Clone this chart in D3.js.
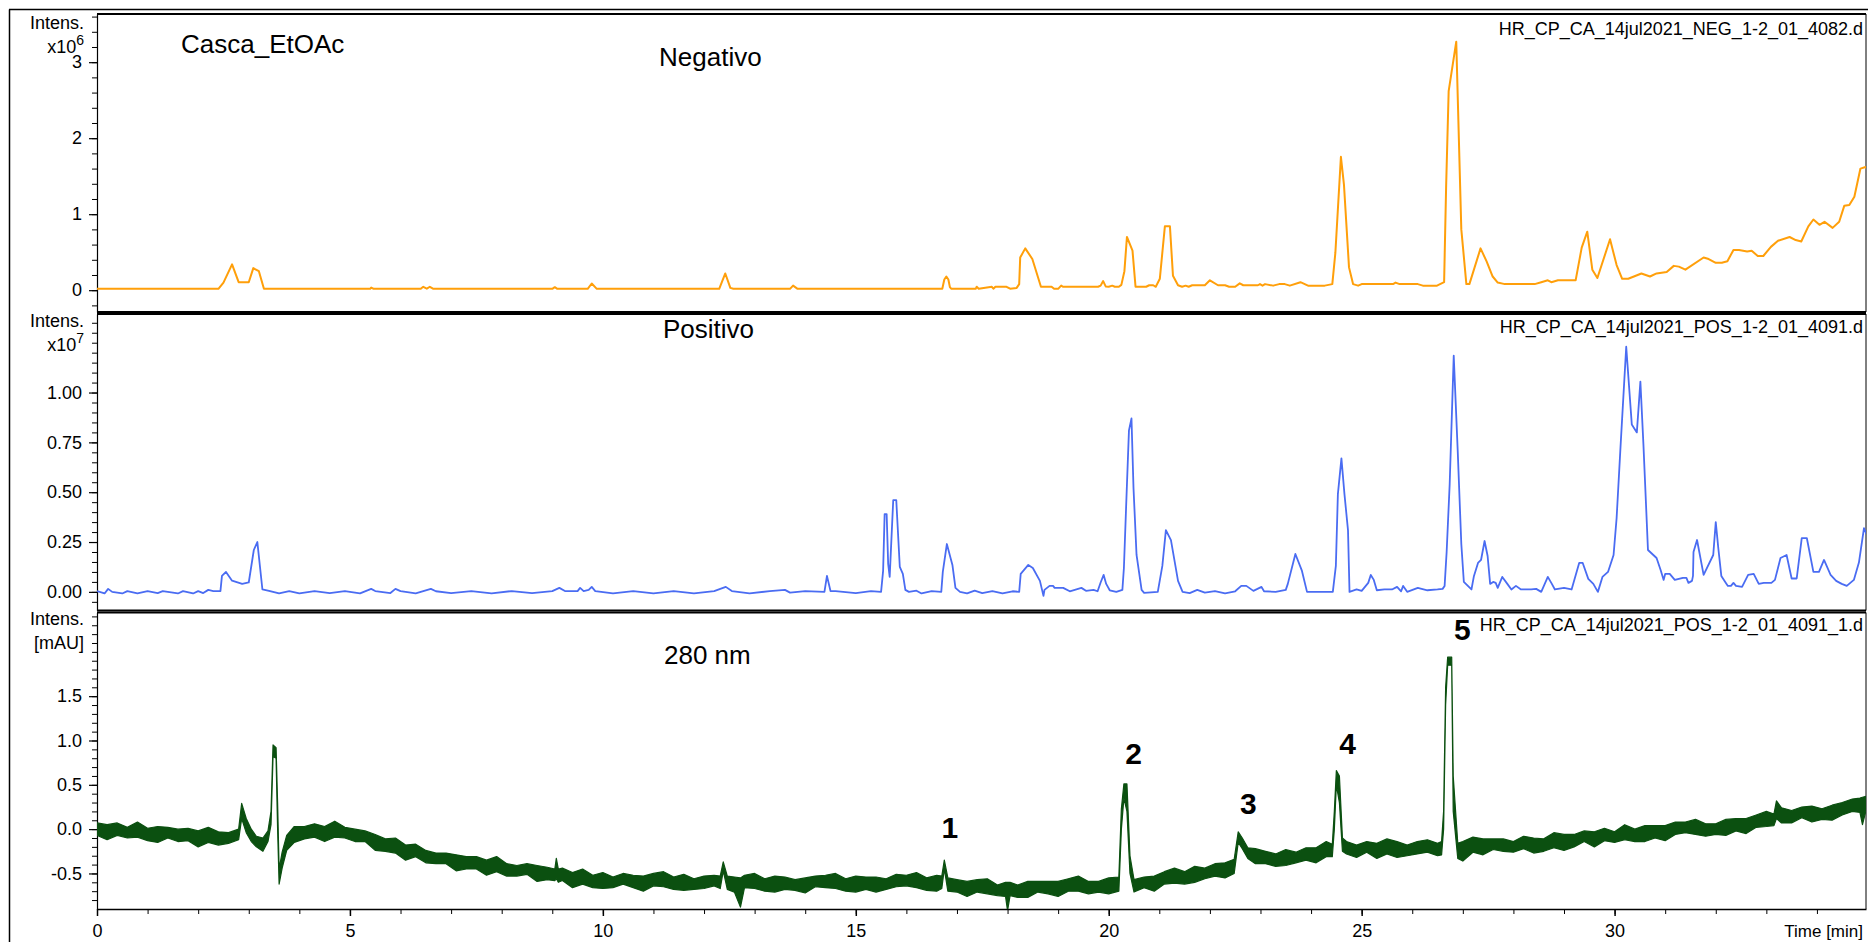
<!DOCTYPE html>
<html>
<head>
<meta charset="utf-8">
<script src="https://cdn.jsdelivr.net/npm/d3@7"></script>
<style>
  html, body { margin: 0; padding: 0; background: #fff; }
  svg { display: block; font-family: "Liberation Sans", Arial, sans-serif; }
</style>
</head>
<body>
<svg id="chart" width="1868" height="942"></svg>
<script>
// ---- data: [time (min), intensity] ----

// negative ion TIC, x10^6
const negTrace = [
  [0.00, 0.018], [2.40, 0.018], [2.50, 0.10], [2.67, 0.34], [2.80, 0.105], [3.00, 0.105],
  [3.09, 0.29], [3.20, 0.25], [3.30, 0.018], [5.40, 0.018], [5.42, 0.035], [5.47, 0.018],
  [6.40, 0.018], [6.45, 0.045], [6.52, 0.02], [6.58, 0.045], [6.65, 0.018], [9.00, 0.018],
  [9.05, 0.04], [9.10, 0.018], [9.70, 0.018], [9.78, 0.088], [9.88, 0.018], [12.30, 0.018],
  [12.42, 0.22], [12.52, 0.03], [12.58, 0.018], [13.70, 0.018], [13.76, 0.06], [13.85, 0.018],
  [16.71, 0.018], [16.75, 0.14], [16.79, 0.18], [16.83, 0.14], [16.86, 0.04], [16.89, 0.018],
  [17.37, 0.018], [17.39, 0.045], [17.43, 0.02], [17.69, 0.045], [17.72, 0.02], [17.76, 0.045],
  [17.98, 0.045], [18.05, 0.02], [18.18, 0.03], [18.23, 0.08], [18.25, 0.43], [18.35, 0.55],
  [18.49, 0.41], [18.66, 0.045], [18.87, 0.045], [18.92, 0.018], [19.00, 0.018], [19.06, 0.06],
  [19.10, 0.045], [19.79, 0.045], [19.84, 0.06], [19.89, 0.12], [19.94, 0.05], [20.00, 0.045],
  [20.07, 0.06], [20.12, 0.045], [20.20, 0.045], [20.25, 0.07], [20.31, 0.25], [20.36, 0.70],
  [20.47, 0.52], [20.53, 0.045], [20.74, 0.045], [20.80, 0.065], [20.88, 0.065], [20.93, 0.045],
  [21.01, 0.15], [21.11, 0.84], [21.21, 0.84], [21.27, 0.19], [21.37, 0.065], [21.45, 0.045],
  [21.52, 0.06], [21.58, 0.045], [21.65, 0.065], [21.90, 0.065], [22.00, 0.13], [22.16, 0.065],
  [22.30, 0.065], [22.38, 0.045], [22.50, 0.045], [22.59, 0.09], [22.66, 0.065], [22.95, 0.065],
  [22.99, 0.08], [23.04, 0.06], [23.09, 0.08], [23.25, 0.06], [23.37, 0.08], [23.48, 0.08],
  [23.58, 0.06], [23.79, 0.105], [23.94, 0.06], [24.27, 0.06], [24.42, 0.08], [24.48, 0.49],
  [24.59, 1.755], [24.65, 1.39], [24.75, 0.30], [24.83, 0.08], [24.93, 0.06], [25.00, 0.08],
  [25.62, 0.08], [25.67, 0.10], [25.75, 0.08], [26.11, 0.08], [26.21, 0.06], [26.49, 0.06],
  [26.63, 0.105], [26.67, 1.37], [26.72, 2.62], [26.87, 3.27], [26.97, 0.80], [27.07, 0.08],
  [27.13, 0.08], [27.35, 0.55], [27.47, 0.38], [27.59, 0.18], [27.69, 0.10], [27.83, 0.08],
  [28.42, 0.08], [28.55, 0.105], [28.68, 0.13], [28.75, 0.105], [28.88, 0.13], [29.23, 0.13],
  [29.35, 0.56], [29.46, 0.77], [29.56, 0.27], [29.66, 0.16], [29.91, 0.67], [30.04, 0.33],
  [30.15, 0.15], [30.27, 0.15], [30.53, 0.22], [30.70, 0.18], [30.83, 0.22], [31.03, 0.24],
  [31.17, 0.32], [31.27, 0.31], [31.40, 0.27], [31.76, 0.43], [31.86, 0.41], [32.00, 0.36],
  [32.12, 0.36], [32.23, 0.38], [32.35, 0.53], [32.46, 0.53], [32.62, 0.51], [32.71, 0.52],
  [32.83, 0.45], [32.94, 0.45], [33.09, 0.57], [33.23, 0.65], [33.46, 0.70], [33.58, 0.66],
  [33.69, 0.64], [33.83, 0.84], [33.93, 0.93], [34.05, 0.86], [34.15, 0.90], [34.31, 0.82],
  [34.44, 0.90], [34.54, 1.11], [34.64, 1.12], [34.74, 1.23], [34.86, 1.60], [34.96, 1.62],
  [35.06, 1.55]
];

// positive ion TIC, x10^7
const posTrace = [
  [0.00, 0.004], [0.15, -0.008], [0.22, 0.015], [0.30, 0.000], [0.50, -0.008], [0.60, 0.004],
  [0.80, -0.008], [1.00, 0.004], [1.20, -0.006], [1.30, 0.004], [1.60, -0.008], [1.70, 0.004],
  [1.90, -0.008], [2.00, 0.004], [2.10, -0.006], [2.20, 0.010], [2.30, 0.004], [2.44, 0.004],
  [2.47, 0.08], [2.55, 0.10], [2.67, 0.056], [2.87, 0.04], [3.00, 0.047], [3.10, 0.21],
  [3.17, 0.25], [3.27, 0.012], [3.40, 0.005], [3.60, -0.008], [3.80, 0.004], [4.00, -0.008],
  [4.30, 0.004], [4.60, -0.006], [4.90, 0.004], [5.20, -0.008], [5.42, 0.015], [5.50, 0.004],
  [5.80, -0.006], [5.90, 0.015], [6.00, 0.004], [6.30, -0.008], [6.60, 0.015], [6.70, 0.003],
  [7.00, -0.006], [7.40, 0.004], [7.80, -0.008], [8.20, 0.004], [8.60, -0.006], [9.00, 0.004],
  [9.14, 0.02], [9.25, 0.004], [9.50, 0.004], [9.55, 0.02], [9.62, 0.004], [9.72, 0.01],
  [9.78, 0.025], [9.85, 0.004], [10.20, -0.008], [10.60, 0.004], [11.00, -0.008], [11.40, 0.004],
  [11.80, -0.008], [12.20, 0.004], [12.43, 0.025], [12.55, 0.004], [12.90, -0.008], [13.30, 0.004],
  [13.60, 0.010], [13.70, -0.004], [14.00, 0.004], [14.38, 0.000], [14.43, 0.08], [14.50, 0.004],
  [14.60, 0.004], [15.00, -0.006], [15.30, 0.004], [15.50, 0.000], [15.54, 0.105], [15.57, 0.39],
  [15.61, 0.39], [15.64, 0.14], [15.67, 0.075], [15.74, 0.46], [15.80, 0.46], [15.87, 0.125],
  [15.93, 0.09], [15.98, 0.01], [16.05, 0.000], [16.20, 0.006], [16.30, -0.008], [16.50, 0.004],
  [16.69, 0.000], [16.72, 0.10], [16.80, 0.24], [16.91, 0.135], [16.97, 0.02], [17.06, 0.000],
  [17.20, -0.008], [17.35, 0.006], [17.50, -0.006], [17.70, 0.004], [17.90, -0.008], [18.10, 0.003],
  [18.23, 0.000], [18.26, 0.09], [18.41, 0.135], [18.50, 0.12], [18.64, 0.055], [18.71, -0.02],
  [18.73, 0.01], [18.83, 0.03], [18.90, 0.03], [18.93, 0.02], [19.10, 0.02], [19.23, 0.003],
  [19.46, 0.02], [19.55, 0.005], [19.70, 0.010], [19.78, 0.003], [19.84, 0.047], [19.90, 0.085],
  [19.95, 0.04], [20.02, 0.008], [20.15, 0.000], [20.27, 0.010], [20.30, 0.12], [20.35, 0.47],
  [20.40, 0.81], [20.45, 0.87], [20.49, 0.52], [20.55, 0.185], [20.65, 0.01], [20.70, -0.005],
  [20.97, 0.000], [21.06, 0.13], [21.13, 0.31], [21.23, 0.26], [21.37, 0.055], [21.46, 0.000],
  [21.60, -0.006], [21.75, 0.010], [21.90, -0.004], [22.10, 0.004], [22.30, -0.008], [22.50, 0.003],
  [22.62, 0.03], [22.72, 0.03], [22.86, 0.005], [23.02, 0.025], [23.07, 0.003], [23.30, 0.000],
  [23.50, 0.010], [23.54, 0.04], [23.69, 0.19], [23.82, 0.105], [23.92, 0.000], [24.43, 0.000],
  [24.49, 0.13], [24.53, 0.49], [24.60, 0.67], [24.66, 0.49], [24.73, 0.31], [24.76, 0.000],
  [24.90, 0.012], [25.00, 0.005], [25.13, 0.045], [25.18, 0.085], [25.24, 0.06], [25.30, 0.008],
  [25.45, 0.012], [25.60, 0.012], [25.70, 0.025], [25.78, 0.003], [25.82, 0.03], [25.90, 0.000],
  [26.11, 0.02], [26.30, 0.008], [26.50, 0.012], [26.60, 0.015], [26.64, 0.03], [26.68, 0.20],
  [26.74, 0.54], [26.82, 1.185], [26.90, 0.70], [26.97, 0.24], [27.02, 0.05], [27.17, 0.012],
  [27.22, 0.08], [27.30, 0.145], [27.36, 0.16], [27.43, 0.255], [27.49, 0.18], [27.54, 0.04],
  [27.60, 0.05], [27.65, 0.045], [27.69, 0.02], [27.78, 0.075], [27.88, 0.04], [27.96, 0.012],
  [28.05, 0.03], [28.15, 0.012], [28.35, 0.012], [28.45, 0.015], [28.55, 0.000], [28.68, 0.075],
  [28.76, 0.04], [28.82, 0.012], [29.00, 0.02], [29.15, 0.012], [29.30, 0.145], [29.37, 0.145],
  [29.48, 0.065], [29.58, 0.04], [29.67, 0.000], [29.76, 0.075], [29.87, 0.10], [29.98, 0.185],
  [30.04, 0.37], [30.12, 0.74], [30.23, 1.23], [30.34, 0.84], [30.44, 0.80], [30.51, 1.055],
  [30.57, 0.74], [30.66, 0.21], [30.83, 0.17], [30.91, 0.11], [30.97, 0.06], [31.00, 0.09],
  [31.09, 0.09], [31.19, 0.06], [31.35, 0.07], [31.42, 0.07], [31.46, 0.045], [31.53, 0.055],
  [31.55, 0.08], [31.56, 0.20], [31.63, 0.26], [31.76, 0.085], [31.95, 0.185], [32.00, 0.35],
  [32.05, 0.22], [32.11, 0.08], [32.20, 0.045], [32.24, 0.03], [32.30, 0.03], [32.35, 0.045],
  [32.40, 0.03], [32.52, 0.025], [32.64, 0.085], [32.75, 0.09], [32.85, 0.04], [32.95, 0.045],
  [33.10, 0.045], [33.17, 0.06], [33.28, 0.17], [33.40, 0.185], [33.50, 0.067], [33.60, 0.067],
  [33.70, 0.27], [33.80, 0.27], [33.93, 0.10], [34.04, 0.10], [34.14, 0.16], [34.27, 0.085],
  [34.38, 0.055], [34.49, 0.04], [34.59, 0.03], [34.73, 0.06], [34.83, 0.147], [34.93, 0.32],
  [35.03, 0.26]
];

// UV 280 nm trace (mAU): [time, lower edge of noise band, upper edge]
const uvBand = [
  [0.0, -0.07, 0.07], [0.2, -0.12, 0.05], [0.4, -0.07, 0.07], [0.6, -0.10, 0.02],
  [0.8, -0.09, 0.08], [1.0, -0.13, 0.01], [1.2, -0.15, 0.03], [1.4, -0.10, 0.02],
  [1.6, -0.14, 0.00], [1.8, -0.13, 0.01], [2.0, -0.20, -0.02], [2.2, -0.15, 0.02],
  [2.4, -0.18, -0.03], [2.6, -0.16, -0.04], [2.8, -0.12, 0.00],
  [2.86, 0.12, 0.29], [2.95, -0.04, 0.12], [3.05, -0.14, 0.00], [3.15, -0.20, -0.08],
  [3.28, -0.25, -0.10], [3.38, -0.14, -0.02], [3.44, 0.05, 0.20], [3.48, 0.82, 0.95],
  [3.54, 0.80, 0.92], [3.57, 0.00, 0.30], [3.60, -0.62, -0.45], [3.66, -0.44, -0.26],
  [3.75, -0.24, -0.07],
  [3.9, -0.15, 0.03], [4.1, -0.11, 0.03], [4.3, -0.09, 0.06], [4.5, -0.14, 0.03],
  [4.7, -0.09, 0.09], [4.9, -0.10, 0.02], [5.1, -0.14, 0.00], [5.3, -0.14, -0.02],
  [5.5, -0.24, -0.06], [5.7, -0.25, -0.11], [5.9, -0.27, -0.10], [6.1, -0.35, -0.18],
  [6.3, -0.31, -0.17], [6.5, -0.38, -0.24], [6.7, -0.39, -0.27], [6.9, -0.39, -0.27],
  [7.1, -0.47, -0.29], [7.3, -0.45, -0.31], [7.5, -0.45, -0.31], [7.7, -0.52, -0.35],
  [7.9, -0.48, -0.31], [8.1, -0.53, -0.39], [8.3, -0.53, -0.41], [8.5, -0.51, -0.39],
  [8.7, -0.59, -0.41], [8.9, -0.57, -0.43], [9.05, -0.58, -0.45], [9.08, -0.56, -0.33],
  [9.12, -0.60, -0.45], [9.2, -0.58, -0.44], [9.4, -0.66, -0.49], [9.6, -0.62, -0.45],
  [9.8, -0.66, -0.52], [10.0, -0.67, -0.49], [10.2, -0.66, -0.54], [10.4, -0.62, -0.50],
  [10.6, -0.66, -0.52], [10.8, -0.70, -0.53], [11.0, -0.64, -0.50], [11.2, -0.65, -0.48],
  [11.4, -0.68, -0.54], [11.6, -0.69, -0.51], [11.8, -0.68, -0.56], [12.0, -0.67, -0.53],
  [12.2, -0.64, -0.52], [12.32, -0.67, -0.53], [12.38, -0.47, -0.37], [12.46, -0.68, -0.53],
  [12.6, -0.71, -0.54], [12.72, -0.88, -0.55], [12.8, -0.66, -0.52], [13.0, -0.67, -0.50],
  [13.2, -0.70, -0.56], [13.4, -0.71, -0.53], [13.6, -0.68, -0.54], [13.8, -0.69, -0.57],
  [14.0, -0.72, -0.55], [14.2, -0.65, -0.53], [14.4, -0.66, -0.52], [14.6, -0.67, -0.50],
  [14.8, -0.70, -0.56], [15.0, -0.71, -0.53], [15.2, -0.68, -0.54], [15.4, -0.71, -0.54],
  [15.6, -0.68, -0.56], [15.8, -0.65, -0.51], [16.0, -0.64, -0.52], [16.2, -0.66, -0.49],
  [16.4, -0.69, -0.55], [16.6, -0.70, -0.52], [16.7, -0.67, -0.53], [16.75, -0.45, -0.35],
  [16.82, -0.70, -0.55], [17.0, -0.71, -0.57], [17.2, -0.76, -0.59], [17.4, -0.71, -0.57],
  [17.6, -0.73, -0.56], [17.8, -0.75, -0.63], [17.96, -0.76, -0.60], [18.0, -0.92, -0.60],
  [18.05, -0.75, -0.60], [18.2, -0.77, -0.63], [18.4, -0.77, -0.59], [18.6, -0.71, -0.59],
  [18.8, -0.73, -0.59], [19.0, -0.76, -0.59], [19.2, -0.70, -0.56], [19.4, -0.70, -0.53],
  [19.6, -0.73, -0.59], [19.8, -0.71, -0.59], [20.0, -0.73, -0.55], [20.2, -0.70, -0.54],
  [20.25, 0.00, 0.23], [20.30, 0.35, 0.51], [20.36, 0.20, 0.51], [20.42, -0.50, -0.30],
  [20.5, -0.71, -0.57], [20.7, -0.66, -0.54], [20.9, -0.70, -0.53], [21.1, -0.62, -0.48],
  [21.3, -0.61, -0.44], [21.5, -0.62, -0.48], [21.7, -0.60, -0.42], [21.9, -0.56, -0.44],
  [22.1, -0.53, -0.39], [22.3, -0.55, -0.38], [22.48, -0.50, -0.34],
  [22.56, -0.15, -0.03], [22.64, -0.22, -0.10],
  [22.75, -0.33, -0.21], [22.9, -0.39, -0.22], [23.1, -0.39, -0.25], [23.3, -0.42, -0.28],
  [23.5, -0.41, -0.23], [23.7, -0.38, -0.26], [23.9, -0.35, -0.21], [24.1, -0.38, -0.21],
  [24.3, -0.31, -0.14], [24.42, -0.31, -0.17],
  [24.46, 0.00, 0.20], [24.50, 0.50, 0.66], [24.56, 0.30, 0.60], [24.62, -0.25, -0.10],
  [24.7, -0.28, -0.14], [24.9, -0.32, -0.18], [25.1, -0.26, -0.14], [25.3, -0.33, -0.16],
  [25.5, -0.28, -0.11], [25.7, -0.32, -0.14], [25.9, -0.30, -0.18], [26.1, -0.28, -0.14],
  [26.3, -0.26, -0.12], [26.5, -0.30, -0.16], [26.58, -0.29, -0.14],
  [26.62, 0.00, 0.20], [26.66, 1.40, 1.60], [26.70, 1.85, 1.94], [26.78, 1.85, 1.94],
  [26.81, 0.20, 0.60],
  [26.9, -0.33, -0.16], [27.0, -0.36, -0.14], [27.2, -0.26, -0.09], [27.4, -0.29, -0.11],
  [27.6, -0.23, -0.11], [27.8, -0.25, -0.11], [28.0, -0.26, -0.14], [28.2, -0.22, -0.08],
  [28.4, -0.27, -0.10], [28.6, -0.25, -0.11], [28.8, -0.21, -0.04], [29.0, -0.24, -0.06],
  [29.2, -0.20, -0.06], [29.4, -0.14, -0.02], [29.6, -0.20, -0.03], [29.8, -0.13, 0.01],
  [30.0, -0.15, -0.03], [30.2, -0.12, 0.05], [30.4, -0.14, 0.00], [30.6, -0.14, 0.04],
  [30.8, -0.10, 0.04], [31.0, -0.13, 0.04], [31.2, -0.06, 0.08], [31.4, -0.04, 0.08],
  [31.6, -0.06, 0.11], [31.8, -0.08, 0.06], [32.0, -0.06, 0.06], [32.2, -0.07, 0.11],
  [32.4, -0.02, 0.12], [32.6, -0.05, 0.12], [32.8, 0.02, 0.16], [33.0, 0.03, 0.20],
  [33.15, 0.04, 0.17], [33.2, 0.12, 0.32], [33.3, 0.07, 0.24], [33.5, 0.07, 0.21],
  [33.7, 0.13, 0.25], [33.9, 0.08, 0.26], [34.1, 0.11, 0.23], [34.3, 0.10, 0.27],
  [34.5, 0.16, 0.30], [34.7, 0.20, 0.34], [34.85, 0.19, 0.35], [34.90, 0.05, 0.36],
  [34.97, 0.21, 0.37]
];

// numbered UV peaks: label, time, label baseline level (mAU)
const peakLabels = ["1", "2", "3", "4", "5"];
const peakTimes = [16.86, 20.49, 22.76, 24.72, 26.99];
const peakLevels = [-0.10, 0.73, 0.175, 0.845, 2.13];

// axis ticks
const timeMajor = [0, 5, 10, 15, 20, 25, 30];
const timeMinor = d3.range(0, 35);
const negMajor = [0, 1, 2, 3];
const negMinor = d3.range(-1, 19).map(i => i * 0.2);
const posMajor = [0, 0.25, 0.5, 0.75, 1.0];
const posMinor = d3.range(-1, 28).map(i => i * 0.05);
const uvMajor = [-0.5, 0, 0.5, 1.0, 1.5];
const uvMinor = d3.range(-8, 25).map(i => i * 0.1);

// ---- drawing ----
const W = 1868, H = 942;
const left = 97, right = 1866;
const ink = "#000";
const uvGreen = "#0b5010";

const svg = d3.select("#chart");
svg.append("rect").attr("width", W).attr("height", H).attr("fill", "#fff");
const defs = svg.append("defs");

const x = d3.scaleLinear().domain([0, 34.97]).range([left, right]);

const loc = d3.formatLocale({ decimal: ".", thousands: ",", grouping: [3], currency: ["", ""], minus: "-" });

const panels = [
  { id: "neg", top: 14, bottom: 312, domain: [-0.287, 3.634], major: negMajor, minor: negMinor, fmt: loc.format("d") },
  { id: "pos", top: 314, bottom: 610.5, domain: [-0.0935, 1.394], major: posMajor, minor: posMinor, fmt: loc.format(".2f") },
  { id: "uv", top: 612.5, bottom: 909, domain: [-0.901, 2.444], major: uvMajor, minor: uvMinor, fmt: loc.format(".1f") }
];

panels.forEach(p => {
  p.y = d3.scaleLinear().domain(p.domain).range([p.bottom, p.top]);

  defs.append("clipPath").attr("id", "clip-" + p.id)
    .append("rect")
    .attr("x", left).attr("y", p.top)
    .attr("width", right - left).attr("height", p.bottom - p.top);

  // minor ticks
  svg.append("g")
    .attr("transform", `translate(${left},0)`)
    .call(d3.axisLeft(p.y).tickValues(p.minor).tickSize(5).tickFormat(""))
    .call(g => g.select(".domain").remove())
    .selectAll("line").attr("stroke", ink);

  // major ticks + labels
  const ax = svg.append("g")
    .attr("transform", `translate(${left},0)`)
    .call(d3.axisLeft(p.y).tickValues(p.major).tickSize(8).tickSizeOuter(0).tickPadding(7).tickFormat(p.fmt))
    .attr("font-size", 18).attr("font-family", null);
  ax.selectAll("line, path").attr("stroke", ink).attr("stroke-width", 1.2);
  ax.selectAll("text").attr("fill", ink);

  // right border
  svg.append("line")
    .attr("x1", right).attr("x2", right).attr("y1", p.top).attr("y2", p.bottom)
    .attr("stroke", ink).attr("stroke-width", 1);
  // top border of each panel (thick)
  svg.append("line")
    .attr("x1", left).attr("x2", right).attr("y1", p.top).attr("y2", p.top)
    .attr("stroke", ink).attr("stroke-width", 2);
  if (p.id !== "uv") {
    svg.append("line")
      .attr("x1", left).attr("x2", right).attr("y1", p.bottom).attr("y2", p.bottom)
      .attr("stroke", ink).attr("stroke-width", 2);
  }
});

// outer frame
svg.append("line").attr("x1", 9.5).attr("x2", 9.5).attr("y1", 9.5).attr("y2", H)
  .attr("stroke", ink).attr("stroke-width", 1.5);
svg.append("line").attr("x1", 9).attr("x2", W).attr("y1", 9.5).attr("y2", 9.5)
  .attr("stroke", ink).attr("stroke-width", 1.5);

// time axis
const xMinor = svg.append("g")
  .attr("transform", `translate(0,${panels[2].bottom})`)
  .call(d3.axisBottom(x).tickValues(timeMinor).tickSize(5).tickFormat(""));
xMinor.select(".domain").remove();
xMinor.selectAll("line").attr("stroke", ink);

const xAx = svg.append("g")
  .attr("transform", `translate(0,${panels[2].bottom})`)
  .call(d3.axisBottom(x).tickValues(timeMajor).tickSize(7).tickSizeOuter(0).tickPadding(8))
  .attr("font-size", 18).attr("font-family", null);
xAx.selectAll("line, path").attr("stroke", ink).attr("stroke-width", 1.5);
xAx.selectAll("text").attr("fill", ink);

svg.append("text")
  .attr("x", 1863).attr("y", 937)
  .attr("text-anchor", "end").attr("font-size", 17)
  .text("Time [min]");

// traces
const [pNeg, pPos, pUv] = panels;

svg.append("path")
  .datum(negTrace)
  .attr("clip-path", "url(#clip-neg)")
  .attr("fill", "none")
  .attr("stroke", "#ff9f0a")
  .attr("stroke-width", 2)
  .attr("stroke-linejoin", "round")
  .attr("d", d3.line().x(d => x(d[0])).y(d => pNeg.y(d[1])));

svg.append("path")
  .datum(posTrace)
  .attr("clip-path", "url(#clip-pos)")
  .attr("fill", "none")
  .attr("stroke", "#4a6cf2")
  .attr("stroke-width", 1.8)
  .attr("stroke-linejoin", "round")
  .attr("d", d3.line().x(d => x(d[0])).y(d => pPos.y(d[1])));

// the noisy UV signal is drawn as a filled band between its lower and upper edges
svg.append("path")
  .datum(uvBand)
  .attr("clip-path", "url(#clip-uv)")
  .attr("fill", uvGreen)
  .attr("stroke", uvGreen)
  .attr("stroke-width", 1.2)
  .attr("stroke-linejoin", "round")
  .attr("d", d3.area().x(d => x(d[0])).y0(d => pUv.y(d[1])).y1(d => pUv.y(d[2])));

// peak numbers
svg.append("g").selectAll("text")
  .data(peakLabels)
  .join("text")
  .attr("x", (d, i) => x(peakTimes[i]))
  .attr("y", (d, i) => pUv.y(peakLevels[i]))
  .attr("text-anchor", "middle")
  .attr("font-size", 30).attr("font-weight", "bold")
  .text(d => d);

// axis titles
function intensLabel(top, unitText, sup) {
  svg.append("text").attr("x", 84).attr("y", top).attr("text-anchor", "end")
    .attr("font-size", 18).text("Intens.");
  const t = svg.append("text").attr("x", 84).attr("y", top + 24).attr("text-anchor", "end")
    .attr("font-size", 18);
  t.append("tspan").text(unitText);
  if (sup) {
    t.append("tspan").attr("dy", -8).attr("font-size", 14).text(sup);
  }
}
intensLabel(29, "x10", "6");
intensLabel(327, "x10", "7");
intensLabel(625, "[mAU]", null);

// in-plot labels
svg.append("text").attr("x", 181).attr("y", 53).attr("font-size", 26).text("Casca_EtOAc");
svg.append("text").attr("x", 659).attr("y", 66).attr("font-size", 26).text("Negativo");
svg.append("text").attr("x", 663).attr("y", 338).attr("font-size", 26).text("Positivo");
svg.append("text").attr("x", 664).attr("y", 664).attr("font-size", 26).text("280 nm");

// file names
svg.append("text").attr("x", 1863).attr("y", 35).attr("text-anchor", "end")
  .attr("font-size", 18).text("HR_CP_CA_14jul2021_NEG_1-2_01_4082.d");
svg.append("text").attr("x", 1863).attr("y", 333).attr("text-anchor", "end")
  .attr("font-size", 18).text("HR_CP_CA_14jul2021_POS_1-2_01_4091.d");
svg.append("text").attr("x", 1863).attr("y", 631).attr("text-anchor", "end")
  .attr("font-size", 18).text("HR_CP_CA_14jul2021_POS_1-2_01_4091_1.d");
</script>
</body>
</html>
